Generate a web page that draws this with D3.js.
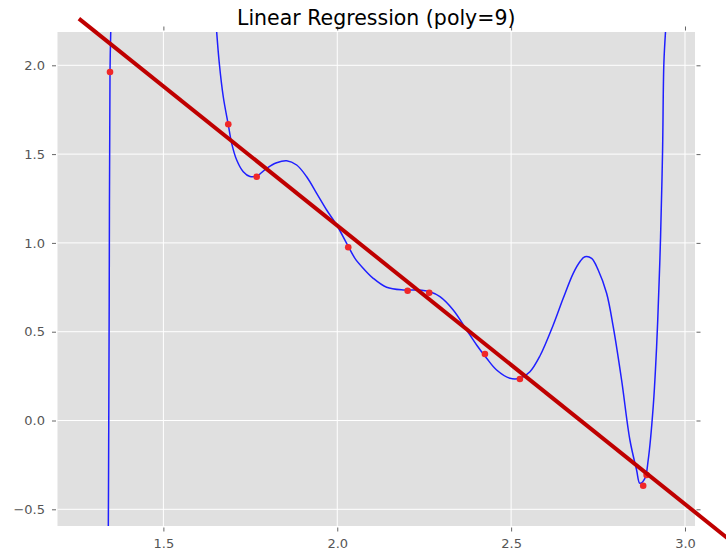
<!DOCTYPE html>
<meta charset="utf-8">
<head>
	<title>Linear Regression (poly=9)</title>
	<script src="https://cdn.jsdelivr.net/npm/d3@7"></script>
	<style>
		body { margin: 0; background: #fff; }
		svg text { font-family: "DejaVu Sans", sans-serif; }
	</style>
</head>
<body>
	<svg id="chart" width="726" height="552"></svg>
	<script>
		// sample points (red dots)
		var pointX = [1.3465, 1.6866, 1.7683, 2.0316, 2.2024, 2.2645, 2.4247, 2.5253, 2.8798, 2.8896];
		var pointY = [1.9623, 1.6678, 1.3727, 0.9752, 0.7309, 0.7196, 0.3744, 0.2337, -0.3671, -0.3069];

		// poly=9 curve (two visible pieces)
		var spikeX = [1.3416, 1.3424, 1.3442, 1.3465, 1.3489];
		var spikeY = [-0.6166, -0.2787, 0.6785, 1.9623, 2.21];
		var curveX = [1.6524, 1.6607, 1.6722, 1.6866, 1.6964, 1.7108, 1.7297, 1.749, 1.7691, 1.797,
			1.8258, 1.8545, 1.8833, 1.912, 1.9408, 1.9695, 1.9983, 2.027, 2.0509, 2.0748,
			2.1035, 2.142, 2.1898, 2.2283, 2.2665, 2.2953, 2.3335, 2.3721, 2.4008, 2.4296,
			2.4583, 2.4966, 2.5253, 2.5541, 2.5828, 2.6211, 2.6498, 2.6786, 2.6978, 2.7122,
			2.7315, 2.7504, 2.7746, 2.7936, 2.8177, 2.8416, 2.8608, 2.8703, 2.8847, 2.8942,
			2.9086, 2.9184, 2.9258, 2.9298, 2.9356, 2.9393, 2.9451];
		var curveY = [2.21, 2.013, 1.823, 1.6655, 1.5608, 1.4668, 1.4009, 1.3739, 1.3767, 1.42,
			1.4516, 1.4628, 1.4386, 1.3727, 1.2793, 1.1853, 1.1008, 0.9977, 0.9133, 0.857,
			0.8007, 0.75, 0.7348, 0.7348, 0.7252, 0.697, 0.6222, 0.5096, 0.4251, 0.3502,
			0.2843, 0.2376, 0.2376, 0.2748, 0.3632, 0.5377, 0.6881, 0.8288, 0.8941, 0.9223,
			0.9133, 0.8474, 0.7162, 0.5282, 0.228, -0.1098, -0.2787, -0.3536, -0.3255, -0.2224,
			0.0777, 0.4155, 0.7911, 1.0349, 1.5231, 2.0113, 2.2213];

		// linear fit (red line)
		var fitX = [1.257, 3.14];
		var fitY = [2.263, -0.6905];

		var xTicks = [1.5, 2.0, 2.5, 3.0];
		var yTicks = [-0.5, 0.0, 0.5, 1.0, 1.5, 2.0];

		var pLeft = 57.5, pRight = 695, pTop = 32, pBottom = 526;

		var x = d3.scaleLinear().domain([1.1955, 3.0288]).range([pLeft, pRight]);
		var y = d3.scaleLinear().domain([-0.594, 2.1875]).range([pBottom, pTop]);
		var fmt = d3.format(".1f");

		var svg = d3.select("#chart");

		svg.append("defs").append("clipPath")
			.attr("id", "plotclip")
			.append("rect")
			.attr("x", pLeft).attr("y", pTop)
			.attr("width", pRight - pLeft).attr("height", pBottom - pTop);

		svg.append("rect")
			.attr("x", pLeft).attr("y", pTop)
			.attr("width", pRight - pLeft).attr("height", pBottom - pTop)
			.attr("fill", "#e0e0e0");

		// grid
		svg.append("g").selectAll("line")
			.data(xTicks).enter().append("line")
			.attr("x1", function (d) { return x(d); }).attr("x2", function (d) { return x(d); })
			.attr("y1", pTop).attr("y2", pBottom)
			.attr("stroke", "#fff").attr("stroke-width", 1);
		svg.append("g").selectAll("line")
			.data(yTicks).enter().append("line")
			.attr("y1", function (d) { return y(d); }).attr("y2", function (d) { return y(d); })
			.attr("x1", pLeft).attr("x2", pRight)
			.attr("stroke", "#fff").attr("stroke-width", 1);

		// axes on all four sides, ticks outward
		function styleAxis(g, labels) {
			g.attr("font-size", null).attr("font-family", null);
			g.select(".domain").remove();
			g.selectAll(".tick line").attr("stroke", "#666");
			g.selectAll(".tick text")
				.attr("fill", "#555")
				.style("font-size", "13px")
				.style("display", labels ? null : "none");
		}
		svg.append("g").attr("transform", "translate(0," + (pBottom + 1.5) + ")")
			.call(d3.axisBottom(x).tickValues(xTicks).tickFormat(fmt).tickSizeOuter(0).tickSize(4).tickPadding(7))
			.call(styleAxis, true);
		svg.append("g").attr("transform", "translate(0," + (pTop - 1.5) + ")")
			.call(d3.axisTop(x).tickValues(xTicks).tickSizeOuter(0).tickSize(4))
			.call(styleAxis, false);
		svg.append("g").attr("transform", "translate(" + (pLeft - 1.5) + ",0)")
			.call(d3.axisLeft(y).tickValues(yTicks).tickFormat(fmt).tickSizeOuter(0).tickSize(4).tickPadding(7))
			.call(styleAxis, true);
		svg.append("g").attr("transform", "translate(" + (pRight + 1.5) + ",0)")
			.call(d3.axisRight(y).tickValues(yTicks).tickSizeOuter(0).tickSize(4))
			.call(styleAxis, false);

		// poly curve
		var line = d3.line()
			.x(function (d) { return x(d[0]); })
			.y(function (d) { return y(d[1]); })
			.curve(d3.curveCatmullRom.alpha(0.5));

		var plot = svg.append("g").attr("clip-path", "url(#plotclip)");
		plot.append("path")
			.datum(d3.zip(spikeX, spikeY))
			.attr("d", line)
			.attr("fill", "none").attr("stroke", "#1f1fff").attr("stroke-width", 1.5);
		plot.append("path")
			.datum(d3.zip(curveX, curveY))
			.attr("d", line)
			.attr("fill", "none").attr("stroke", "#1f1fff").attr("stroke-width", 1.5);

		// points
		svg.append("g").selectAll("circle")
			.data(d3.zip(pointX, pointY)).enter().append("circle")
			.attr("cx", function (d) { return x(d[0]); })
			.attr("cy", function (d) { return y(d[1]); })
			.attr("r", 3.3)
			.attr("fill", "#f02828");

		// linear fit, not clipped
		svg.append("path")
			.datum(d3.zip(fitX, fitY))
			.attr("d", d3.line().x(function (d) { return x(d[0]); }).y(function (d) { return y(d[1]); }))
			.attr("fill", "none").attr("stroke", "#bf0000").attr("stroke-width", 4);

		// title
		svg.append("text")
			.attr("x", (pLeft + pRight) / 2)
			.attr("y", 25)
			.attr("text-anchor", "middle")
			.attr("font-size", "20.5px")
			.attr("fill", "#000")
			.text("Linear Regression (poly=9)");
	</script>
</body>
